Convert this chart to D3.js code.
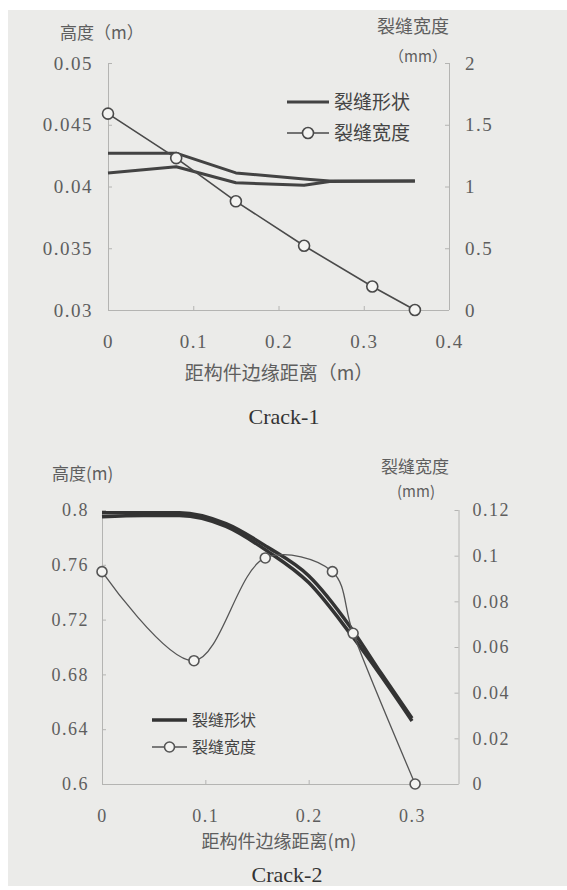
<!DOCTYPE html>
<html><head><meta charset="utf-8">
<script src="https://cdn.jsdelivr.net/npm/d3@7"></script>
<style>
html,body{margin:0;padding:0;background:#fff;}
svg{display:block;}
</style>
</head><body>
<svg id="chart" width="567" height="890"></svg>
<script>
// ---------- Crack-1 data ----------
const crack1X = [0, 0.08, 0.15, 0.23, 0.31, 0.36];
const crack1Width = [1.59, 1.23, 0.88, 0.52, 0.19, 0];
const crack1ShapeX = [0, 0.08, 0.15, 0.23, 0.26, 0.36];
const crack1Upper = [0.0427, 0.0427, 0.0411, 0.0406, 0.04045, 0.04045];
const crack1Lower = [0.0411, 0.0416, 0.0403, 0.0401, 0.0404, 0.04045];
const crack1XTicks = [0, 0.1, 0.2, 0.3, 0.4];
const crack1LeftTicks = [0.03, 0.035, 0.04, 0.045, 0.05];
const crack1RightTicks = [0, 0.5, 1, 1.5, 2];

// ---------- Crack-2 data ----------
const crack2X = [0, 0.089, 0.158, 0.223, 0.243, 0.303];
const crack2Width = [0.093, 0.054, 0.099, 0.093, 0.066, 0];
const crack2ShapeX = [0, 0.04, 0.075, 0.12, 0.16, 0.2, 0.24, 0.27, 0.30];
const crack2Outer = [0.798, 0.798, 0.798, 0.790, 0.773, 0.752, 0.715, 0.681, 0.648];
const crack2Inner = [0.795, 0.796, 0.796, 0.788, 0.770, 0.747, 0.710, 0.679, 0.646];
const crack2XTicks = [0, 0.1, 0.2, 0.3];
const crack2LeftTicks = [0.6, 0.64, 0.68, 0.72, 0.76, 0.8];
const crack2RightTicks = [0, 0.02, 0.04, 0.06, 0.08, 0.1, 0.12];

const legendLabels = ["裂缝形状", "裂缝宽度"];

const CJK = "'Noto Sans CJK SC','Noto Sans',sans-serif";
const NUM = "'Liberation Serif','Times New Roman',serif";
const LAT = "'Liberation Serif','Times New Roman',serif";

const svg = d3.select("#chart");
svg.append("rect").attr("x",0).attr("y",0).attr("width",567).attr("height",890).attr("fill","#ffffff");
svg.append("rect").attr("x",8).attr("y",10).attr("width",559).attr("height",876).attr("fill","#ebebe9");

const axisCol = "#b4b4b2", textCol = "#5e5e5e";

function drawChart(cfg){
  const g = svg.append("g");
  const x = d3.scaleLinear().domain(cfg.xDomain).range([cfg.left, cfg.right]);
  const yL = d3.scaleLinear().domain(cfg.yLDomain).range([cfg.bottom, cfg.top]);
  const yR = d3.scaleLinear().domain(cfg.yRDomain).range([cfg.bottom, cfg.top]);

  const fmt = d => String(d);
  const ax = g.append("g").attr("transform",`translate(0,${cfg.bottom})`)
    .call(d3.axisBottom(x).tickValues(cfg.xTicks).tickSize(-4).tickFormat(fmt).tickPadding(cfg.xPad));
  const al = g.append("g").attr("transform",`translate(${cfg.left},0)`)
    .call(d3.axisLeft(yL).tickValues(cfg.lTicks).tickSize(-4).tickFormat(fmt).tickPadding(cfg.lPad));
  const ar = g.append("g").attr("transform",`translate(${cfg.right},0)`)
    .call(d3.axisRight(yR).tickValues(cfg.rTicks).tickSize(-4).tickFormat(fmt).tickPadding(cfg.rPad));
  [ax,al,ar].forEach(a=>{
    a.attr("font-family",NUM).attr("font-size",cfg.tickFont);
    a.select(".domain").attr("stroke",axisCol).attr("stroke-width",1);
    a.selectAll(".tick line").attr("stroke",axisCol);
    a.selectAll("text").style("font-family",NUM).style("font-size",cfg.tickFont+"px")
      .style("letter-spacing","1.5px").attr("fill",textCol);
  });
  ax.select(".domain").attr("d",`M${cfg.left},0.5H${cfg.right}`);
  al.select(".domain").attr("d",`M0.5,${cfg.bottom}V${cfg.top}`);
  ar.select(".domain").attr("d",`M0.5,${cfg.bottom}V${cfg.top}`);

  const shapeLine = d3.line().x((d,i)=>x(cfg.shapeX[i])).y(d=>yL(d)).curve(cfg.shapeCurve);
  cfg.shapeSeries.forEach(s=>{
    g.append("path").attr("d",shapeLine(s)).attr("fill","none")
      .attr("stroke",cfg.shapeCol).attr("stroke-width",cfg.shapeW).attr("stroke-linejoin","round");
  });
  const wLine = d3.line().x((d,i)=>x(cfg.wX[i])).y(d=>yR(d)).curve(cfg.wCurve);
  g.append("path").attr("d",wLine(cfg.wVals)).attr("fill","none")
    .attr("stroke",cfg.wCol).attr("stroke-width",cfg.wW);
  g.selectAll("circle.pt").data(cfg.wVals).enter().append("circle")
    .attr("cx",(d,i)=>x(cfg.wX[i])).attr("cy",d=>yR(d)).attr("r",cfg.r)
    .attr("fill","#f4f4f2").attr("stroke",cfg.wCol).attr("stroke-width",1.6);

  const L = cfg.legend;
  g.append("line").attr("x1",L.x1).attr("x2",L.x2).attr("y1",L.y1).attr("y2",L.y1)
    .attr("stroke",cfg.shapeCol).attr("stroke-width",cfg.shapeW);
  g.append("line").attr("x1",L.x1).attr("x2",L.x2).attr("y1",L.y2).attr("y2",L.y2)
    .attr("stroke",cfg.wCol).attr("stroke-width",cfg.wW);
  g.append("circle").attr("cx",(L.x1+L.x2)/2).attr("cy",L.y2).attr("r",cfg.r)
    .attr("fill","#f4f4f2").attr("stroke",cfg.wCol).attr("stroke-width",1.6);
  [L.y1,L.y2].forEach((yy,i)=>{
    g.append("text").attr("x",L.x2+5).attr("y",yy).attr("dy","0.36em")
      .style("font-family",CJK).attr("font-size",L.font).attr("fill","#444").text(legendLabels[i]);
  });

  cfg.texts.forEach(t=>{
    g.append("text").attr("x",t.x).attr("y",t.y).attr("dy","0.36em")
      .style("font-family",t.font)
      .attr("text-anchor",t.anchor||"middle").attr("font-size",t.size).attr("fill",t.fill||textCol).text(t.s);
  });
}

drawChart({
  xDomain:[0,0.4], yLDomain:[0.03,0.05], yRDomain:[0,2],
  left:108, right:449, top:63, bottom:310,
  xTicks:crack1XTicks, lTicks:crack1LeftTicks, rTicks:crack1RightTicks,
  xPad:25, lPad:15, rPad:16, tickFont:19,
  shapeX:crack1ShapeX, shapeSeries:[crack1Upper,crack1Lower], shapeCurve:d3.curveLinear,
  shapeCol:"#434343", shapeW:3,
  wX:crack1X, wVals:crack1Width, wCurve:d3.curveLinear, wCol:"#4a4a4a", wW:1.6, r:5.5,
  legend:{x1:287,x2:329,y1:102,y2:133,font:19},
  texts:[
    {s:"高度（m）", x:60, y:33, anchor:"start", size:17, font:CJK},
    {s:"裂缝宽度", x:413, y:27, size:18, font:CJK},
    {s:"（mm）", x:418, y:57, size:15, font:CJK},
    {s:"距构件边缘距离（m）", x:279, y:373, size:19, font:CJK},
    {s:"Crack-1", x:284, y:416, size:22, font:LAT, fill:"#333"}
  ]
});

drawChart({
  xDomain:[0,0.345], yLDomain:[0.6,0.8], yRDomain:[0,0.12],
  left:102, right:458.5, top:510, bottom:784,
  xTicks:crack2XTicks, lTicks:crack2LeftTicks, rTicks:crack2RightTicks,
  xPad:25, lPad:13, rPad:14, tickFont:18,
  shapeX:crack2ShapeX, shapeSeries:[crack2Outer,crack2Inner], shapeCurve:d3.curveMonotoneX,
  shapeCol:"#333333", shapeW:3.5,
  wX:crack2X, wVals:crack2Width, wCurve:d3.curveCatmullRom.alpha(0.5), wCol:"#555555", wW:1.3, r:5,
  legend:{x1:152,x2:187,y1:720,y2:747,font:16},
  texts:[
    {s:"高度(m)", x:52, y:474, anchor:"start", size:17, font:CJK},
    {s:"裂缝宽度", x:415, y:467, size:17, font:CJK},
    {s:"(mm)", x:416, y:492, size:15, font:CJK},
    {s:"距构件边缘距离(m)", x:279, y:842, size:18, font:CJK},
    {s:"Crack-2", x:287, y:874, size:22, font:LAT, fill:"#333"}
  ]
});
</script>
</body></html>
